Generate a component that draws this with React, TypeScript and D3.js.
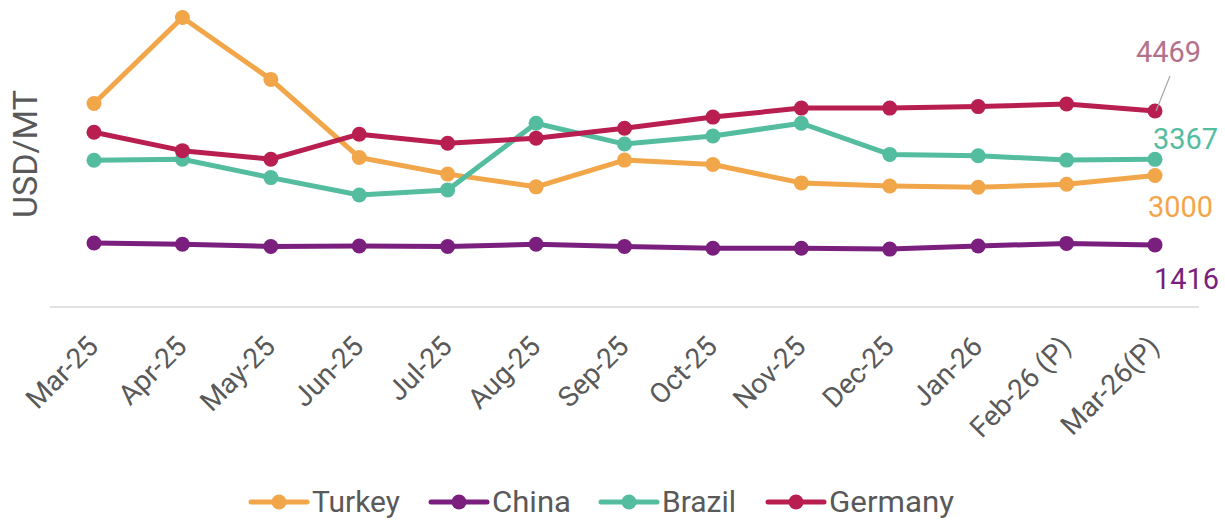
import { useEffect, useRef } from "react";
import * as d3 from "d3";

const months = [
  "Mar-25", "Apr-25", "May-25", "Jun-25", "Jul-25", "Aug-25", "Sep-25",
  "Oct-25", "Nov-25", "Dec-25", "Jan-26", "Feb-26 (P)", "Mar-26(P)",
];
const turkey = [4640, 6600, 5190, 3410, 3030, 2740, 3350, 3250, 2830, 2760, 2730, 2800, 3000];
const china = [1460, 1430, 1380, 1390, 1380, 1430, 1380, 1340, 1340, 1320, 1390, 1450, 1416];
const brazil = [3345, 3370, 2950, 2555, 2670, 4190, 3715, 3900, 4190, 3480, 3450, 3350, 3367];
const germany = [3985, 3565, 3370, 3940, 3735, 3850, 4075, 4330, 4535, 4535, 4570, 4630, 4469];

const seriesNames = ["Turkey", "China", "Brazil", "Germany"];
const seriesColors = ["#F2A64A", "#7A1F7E", "#54BC9F", "#B81E50"];
const labelColors = ["#F2A64A", "#7A1F7E", "#54BC9F", "#B2718C"];

const W = 1225;
const H = 521;

export default function App() {
  const ref = useRef<SVGSVGElement>(null);

  useEffect(() => {
    const svg = d3.select(ref.current);
    svg.selectAll("*").remove();
    const font = "Roboto, 'Open Sans', sans-serif";

    const x = d3.scalePoint().domain(months).range([94, 1155]);
    const y = d3.scaleLinear().domain([0, 7000]).range([307, 0]);

    // baseline
    svg.append("line")
      .attr("x1", 50).attr("x2", 1199)
      .attr("y1", y(0)).attr("y2", y(0))
      .attr("stroke", "#d9d9d9").attr("stroke-width", 1.5);

    // x tick labels
    svg.append("g").selectAll("text").data(months).join("text")
      .attr("transform", (d) => `translate(${(x(d) ?? 0) + 6},${y(0) + 41}) rotate(-45)`)
      .attr("text-anchor", "end")
      .attr("font-family", font)
      .attr("font-size", 28)
      .attr("fill", "#595959")
      .text((d) => d);

    // y title
    svg.append("text")
      .attr("transform", `translate(37,154) rotate(-90)`)
      .attr("text-anchor", "middle")
      .attr("font-family", font)
      .attr("font-size", 34)
      .attr("fill", "#595959")
      .text("USD/MT");

    const all = [turkey, china, brazil, germany];
    const lineGen = d3.line<number>()
      .x((_, i) => x(months[i]) ?? 0)
      .y((d) => y(d));

    all.forEach((vals, si) => {
      const g = svg.append("g");
      g.append("path")
        .datum(vals)
        .attr("d", lineGen)
        .attr("fill", "none")
        .attr("stroke", seriesColors[si])
        .attr("stroke-width", 5)
        .attr("stroke-linejoin", "round");
      g.selectAll("circle").data(vals).join("circle")
        .attr("cx", (_, i) => x(months[i]) ?? 0)
        .attr("cy", (d) => y(d))
        .attr("r", 7.5)
        .attr("fill", seriesColors[si]);
    });

    // end labels
    const lastX = x(months[months.length - 1]) ?? 0;
    const lastY = (vals: number[]) => y(vals[vals.length - 1]);
    svg.append("line")
      .attr("x1", 1170).attr("y1", 76)
      .attr("x2", lastX + 1).attr("y2", lastY(germany))
      .attr("stroke", "#a6a6a6").attr("stroke-width", 1.2);
    const labels = [
      { v: germany, dx: -19, dy: -49 },
      { v: brazil, dx: -2, dy: -10 },
      { v: turkey, dx: -7, dy: 42 },
      { v: china, dx: -1, dy: 44 },
    ];
    labels.forEach((l) => {
      const si = all.indexOf(l.v);
      svg.append("text")
        .attr("x", lastX + l.dx)
        .attr("y", lastY(l.v) + l.dy)
        .attr("font-family", font)
        .attr("font-size", 29)
        .attr("fill", labelColors[si])
        .attr("textLength", 65)
        .attr("lengthAdjust", "spacingAndGlyphs")
        .text(String(l.v[l.v.length - 1]));
    });

    // legend
    const legendX = [251, 431, 601, 768];
    const legendW = [88, 79, 74, 125];
    const ly = 502;
    seriesNames.forEach((name, si) => {
      const g = svg.append("g").attr("transform", `translate(${legendX[si]},${ly})`);
      g.append("line").attr("x1", 0).attr("x2", 56).attr("y1", 0).attr("y2", 0)
        .attr("stroke", seriesColors[si]).attr("stroke-width", 5).attr("stroke-linecap", "round");
      g.append("circle").attr("cx", 28).attr("cy", 0).attr("r", 7.5).attr("fill", seriesColors[si]);
      g.append("text").attr("x", 61).attr("y", 9.5)
        .attr("font-family", font).attr("font-size", 30).attr("fill", "#595959")
        .attr("textLength", legendW[si])
        .attr("lengthAdjust", "spacingAndGlyphs")
        .text(name);
    });
  }, []);

  return (
    <svg ref={ref} width={W} height={H} style={{ position: "absolute", left: 0, top: 0 }} />
  );
}
